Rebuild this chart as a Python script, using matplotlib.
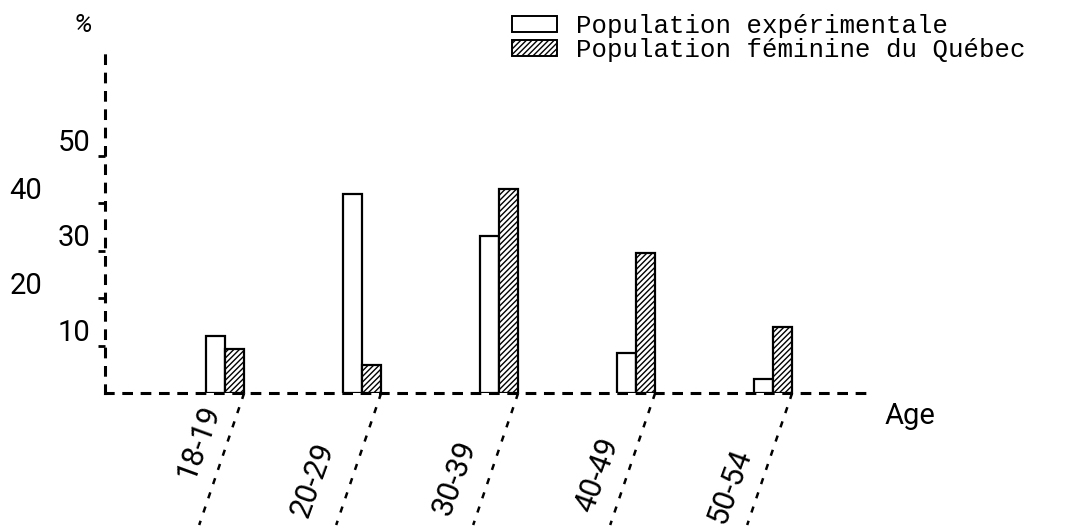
import matplotlib
matplotlib.use("Agg")
import matplotlib.pyplot as plt
from matplotlib.patches import Patch

# Data (percent)
ages = ["18-19", "20-29", "30-39", "40-49", "50-54"]
experimental = [12, 42, 33, 8.5, 3]
quebec = [9.3, 6, 43, 29.5, 14]
y_ticks = [10, 20, 30, 40, 50]
legend_labels = ["Population expérimentale", "Population féminine du Québec"]

sans = ["Roboto", "DejaVu Sans"]
mono = "Liberation Mono"
hatch = "/" * 6

plt.rcParams["hatch.linewidth"] = 1.0

W, H = 1066, 532
fig = plt.figure(figsize=(W / 100, H / 100), dpi=100)
# axes box: left dashed axis at x=105 px, baseline at y=393 px
ax = fig.add_axes([105 / W, (H - 393) / H, (875 - 105) / W, (393 - 50) / H])

px_x = 137.0   # pixels per category
px_y = 4.75    # pixels per percent
ax.set_xlim(-120 / px_x, 650 / px_x)
ax.set_ylim(0, 343 / px_y)

w = 0.14
pos = list(range(len(ages)))
ax.bar([p - w / 2 for p in pos], experimental, width=w, facecolor="white",
       edgecolor="black", linewidth=1.6, zorder=3)
ax.bar([p + w / 2 for p in pos], quebec, width=w, facecolor="white",
       edgecolor="black", linewidth=1.6, hatch=hatch, zorder=3)

# dashed hand-drawn axes
for side in ["top", "right"]:
    ax.spines[side].set_visible(False)
for side in ["left", "bottom"]:
    ax.spines[side].set_linestyle((0, (2.5, 3.5)))
    ax.spines[side].set_linewidth(2.2)
ax.set_xticks([])
ax.set_yticks(y_ticks)
ax.tick_params(axis="y", length=5, width=2, direction="out", labelleft=False)

# staggered y labels
ytr = ax.get_yaxis_transform()
for k, v in enumerate(y_ticks):
    xa = (90 - 105) / 770 if k % 2 == 0 else (42 - 105) / 770
    ax.text(xa, v + 2.6, str(v), transform=ytr, ha="right", va="center",
            fontsize=21, family=sans)

# slanted leader lines and rotated age labels
label_shift = [(-26, -49), (-49, -87), (-44, -85), (-39, -82), (-43, -93)]
for i, lab in enumerate(ages):
    x0 = i + w
    ax.plot([x0, x0 - 45 / px_x], [0, -132 / px_y], linestyle=(0, (2.5, 3.5)),
            color="black", linewidth=1.8, clip_on=False)
    ax.annotate(lab, xy=(i, 0), xytext=label_shift[i], textcoords="offset pixels",
                rotation=70, ha="center", va="center", fontsize=22,
                family=sans, annotation_clip=False)

fig.text(83 / W, 1 - 25 / H, "%", ha="center", va="center", fontsize=19,
         family=sans, style="italic")
fig.text(910 / W, 1 - 416 / H, "Age", ha="center", va="center", fontsize=21,
         family=sans)

handles = [Patch(facecolor="white", edgecolor="black", linewidth=1.4),
           Patch(facecolor="white", edgecolor="black", linewidth=1.4, hatch=hatch)]
fig.legend(handles, legend_labels, loc="upper left",
           bbox_to_anchor=(512 / W, 1 - 14 / H), frameon=False,
           prop={"family": mono, "size": 18.5}, handlelength=1.75, handleheight=0.55,
           handletextpad=0.75, labelspacing=0.0, borderpad=0, borderaxespad=0)

fig.savefig("out.png", dpi=100)
